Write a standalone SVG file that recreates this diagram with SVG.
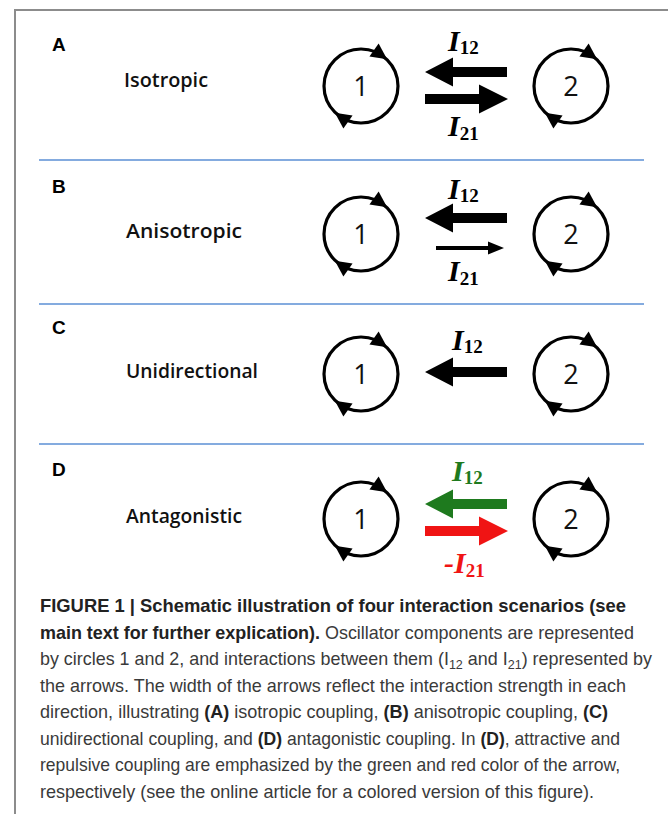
<svg xmlns="http://www.w3.org/2000/svg" xmlns:xlink="http://www.w3.org/1999/xlink" width="668" height="814" viewBox="0 0 668 814">
<style>
.frame{fill:none;stroke:#8c8c8c;stroke-width:2}
.sep{stroke:#5b8fd4;stroke-width:1.6}
.ring{fill:none;stroke:#000;stroke-width:3.2}
.num{font-family:"Open Sans","Noto Sans",sans-serif;font-size:27px;fill:#111;text-anchor:middle}
.plet{font-family:"Liberation Sans",Arial,sans-serif;font-weight:bold;font-size:19px;fill:#000}
.pname{font-family:"Open Sans","Noto Sans",sans-serif;font-weight:600;font-size:20px;fill:#111}
.I{font-family:"Liberation Serif","Times New Roman",serif;font-weight:bold;font-style:italic;font-size:30px;fill:#000}
.sub{font-style:normal;font-size:19px}
.cap{font-family:"Liberation Sans",Arial,sans-serif;font-size:18.5px;fill:#3a3a3a}
.b{font-weight:bold;fill:#222}
.csub{font-size:13px}
</style>
<defs>
<polygon id="head" points="6,0 -10,-8 -10,8" fill="#000"/>
<g id="osc">
<circle r="37" class="ring"/>
<use xlink:href="#head" transform="rotate(-55) translate(37,0) rotate(90)"/>
<use xlink:href="#head" transform="rotate(125) translate(37,0) rotate(90)"/>
</g>
</defs>

<path class="frame" d="M15,814 V10 H668"/>

<g id="separators">
<line class="sep" x1="39" y1="160" x2="644" y2="160"/>
<line class="sep" x1="39" y1="304" x2="644" y2="304"/>
<line class="sep" x1="39" y1="444" x2="644" y2="444"/>
</g>

<g id="panelA">
<text class="plet" x="52" y="51">A</text>
<text class="pname" x="124" y="87" textLength="84" lengthAdjust="spacingAndGlyphs">Isotropic</text>
<g id="A-osc1" transform="translate(361,86)"><use xlink:href="#osc"/><text class="num" y="10">1</text></g>
<g id="A-osc2" transform="translate(571,86)"><use xlink:href="#osc"/><text class="num" y="10">2</text></g>
<text class="I" x="448" y="51">I<tspan class="sub" dy="3">12</tspan></text>
<text class="I" x="448" y="136">I<tspan class="sub" dy="4">21</tspan></text>
</g>

<g id="panelB">
<text class="plet" x="52" y="193">B</text>
<text class="pname" x="126" y="238" textLength="116" lengthAdjust="spacingAndGlyphs">Anisotropic</text>
<g id="B-osc1" transform="translate(361,234)"><use xlink:href="#osc"/><text class="num" y="10">1</text></g>
<g id="B-osc2" transform="translate(571,234)"><use xlink:href="#osc"/><text class="num" y="10">2</text></g>
<text class="I" x="448" y="199">I<tspan class="sub" dy="3">12</tspan></text>
<text class="I" x="448" y="281">I<tspan class="sub" dy="4">21</tspan></text>
</g>

<g id="panelC">
<text class="plet" x="52" y="334">C</text>
<text class="pname" x="126" y="378" textLength="132" lengthAdjust="spacingAndGlyphs">Unidirectional</text>
<g id="C-osc1" transform="translate(361,374)"><use xlink:href="#osc"/><text class="num" y="10">1</text></g>
<g id="C-osc2" transform="translate(571,374)"><use xlink:href="#osc"/><text class="num" y="10">2</text></g>
<text class="I" x="452" y="350">I<tspan class="sub" dy="3">12</tspan></text>
</g>

<g id="panelD">
<text class="plet" x="52" y="476">D</text>
<text class="pname" x="126" y="523" textLength="116" lengthAdjust="spacingAndGlyphs">Antagonistic</text>
<g id="D-osc1" transform="translate(361,519)"><use xlink:href="#osc"/><text class="num" y="10">1</text></g>
<g id="D-osc2" transform="translate(571,519)"><use xlink:href="#osc"/><text class="num" y="10">2</text></g>
<text class="I" x="452" y="481" style="fill:#1e7a1e">I<tspan class="sub" dy="3">12</tspan></text>
<text class="I" x="444" y="573" style="fill:#f01414">-I<tspan class="sub" dy="4">21</tspan></text>
</g>

<g id="connectors">
<polygon points="425,72 453,57.5 453,67 507,67 507,77 453,77 453,86.5" fill="#000"/>
<polygon points="508,99 479,84.5 479,94 425,94 425,104 479,104 479,113.5" fill="#000"/>
<polygon points="425,218 453,203.5 453,213 507,213 507,223 453,223 453,232.5" fill="#000"/>
<polygon points="504,248 488,241.5 488,246 436,246 436,250 488,250 488,254.5" fill="#000"/>
<polygon points="425,372 453,357.5 453,367 507,367 507,377 453,377 453,386.5" fill="#000"/>
<polygon points="425,504 453,489.5 453,499 507,499 507,509 453,509 453,518.5" fill="#1e7a1e"/>
<polygon points="508,531 479,516.5 479,526 425,526 425,536 479,536 479,545.5" fill="#f01414"/>
</g>

<g id="caption">
<text class="cap" x="40" y="612" textLength="586" lengthAdjust="spacingAndGlyphs"><tspan class="b">FIGURE 1 | Schematic illustration of four interaction scenarios (see</tspan></text>
<text class="cap" x="40" y="638.5" textLength="594" lengthAdjust="spacingAndGlyphs"><tspan class="b">main text for further explication).</tspan> Oscillator components are represented</text>
<text class="cap" x="40" y="665" textLength="612" lengthAdjust="spacingAndGlyphs">by circles 1 and 2, and interactions between them (I<tspan class="csub" dy="4">12</tspan><tspan dy="-4"> and I</tspan><tspan class="csub" dy="4">21</tspan><tspan dy="-4">) represented by</tspan></text>
<text class="cap" x="40" y="691.5" textLength="586" lengthAdjust="spacingAndGlyphs">the arrows. The width of the arrows reflect the interaction strength in each</text>
<text class="cap" x="40" y="718" textLength="568" lengthAdjust="spacingAndGlyphs">direction, illustrating <tspan class="b">(A)</tspan> isotropic coupling, <tspan class="b">(B)</tspan> anisotropic coupling, <tspan class="b">(C)</tspan></text>
<text class="cap" x="40" y="744.5" textLength="580" lengthAdjust="spacingAndGlyphs">unidirectional coupling, and <tspan class="b">(D)</tspan> antagonistic coupling. In <tspan class="b">(D)</tspan>, attractive and</text>
<text class="cap" x="40" y="771" textLength="580" lengthAdjust="spacingAndGlyphs">repulsive coupling are emphasized by the green and red color of the arrow,</text>
<text class="cap" x="40" y="797.5" textLength="554" lengthAdjust="spacingAndGlyphs">respectively (see the online article for a colored version of this figure).</text>
</g>
</svg>
